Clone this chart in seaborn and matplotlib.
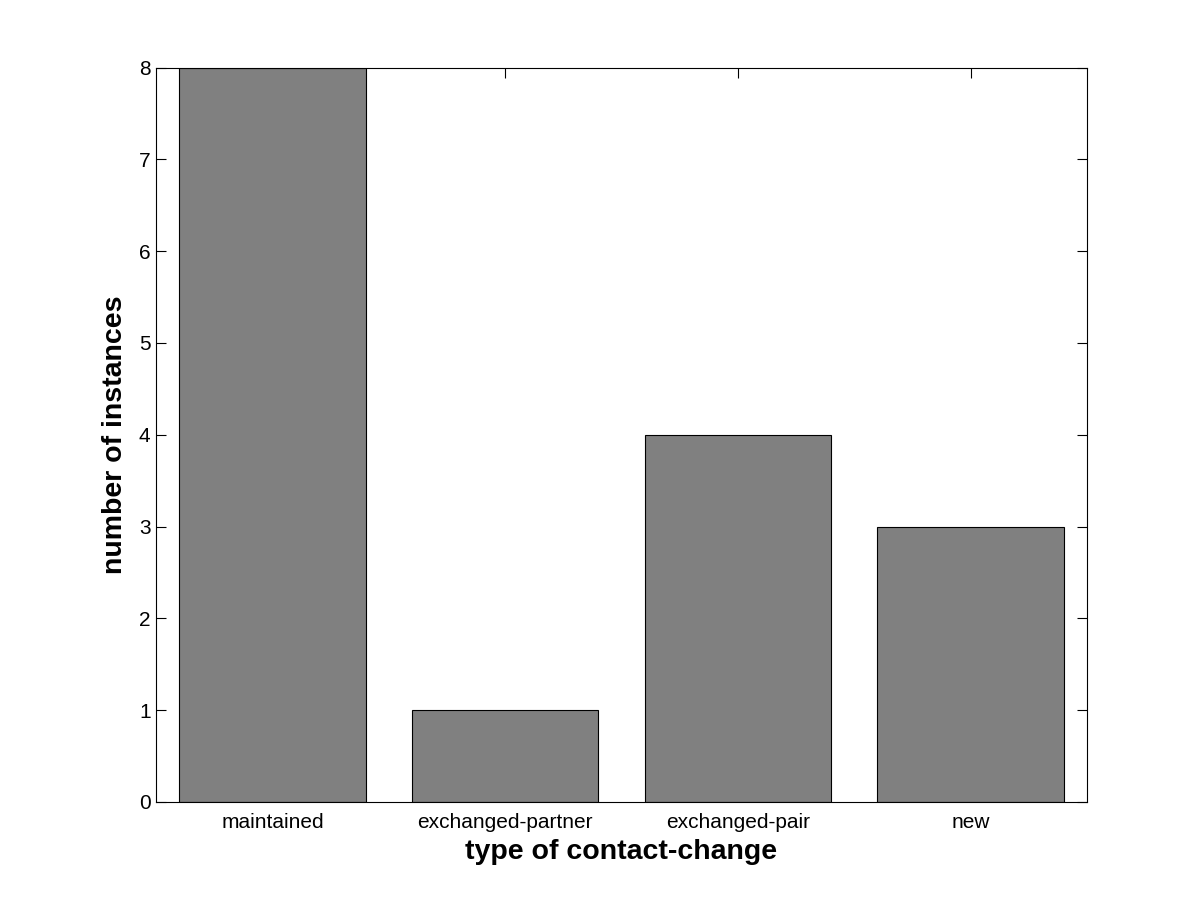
import matplotlib
matplotlib.use('Agg')
import matplotlib.pyplot as plt
import seaborn as sns
import pandas as pd

# data
categories = ['maintained', 'exchanged-partner', 'exchanged-pair', 'new']
counts = [8, 1, 4, 3]

df = pd.DataFrame({'type': categories, 'count': counts})

sns.set_style('ticks')
plt.rcParams['font.family'] = ['Liberation Sans', 'DejaVu Sans']

fig = plt.figure(figsize=(12.01, 9.01), dpi=100)
ax = fig.add_axes([0.13, 0.11, 0.775, 0.815])

sns.barplot(data=df, x='type', y='count', color='#808080', saturation=1,
            width=0.8, edgecolor='black', linewidth=0.8, ax=ax)

ax.set_xlim(-0.5, 3.5)
ax.set_ylim(0, 8)
ax.set_yticks(range(0, 9))

for s in ax.spines.values():
    s.set_visible(True)
    s.set_color('black')
    s.set_linewidth(0.8)

ax.tick_params(direction='in', length=7, width=0.8, top=True, right=True,
               labelsize=15, colors='black')
ax.tick_params(axis='y', pad=4)
ax.tick_params(axis='x', pad=8)

ax.set_xlabel('type of contact-change', fontsize=20.5, fontweight='bold',
              color='black', labelpad=5)
ax.set_ylabel('number of instances', fontsize=20.5, fontweight='bold',
              color='black', labelpad=8)

fig.savefig('out.png', dpi=100, facecolor='white')
